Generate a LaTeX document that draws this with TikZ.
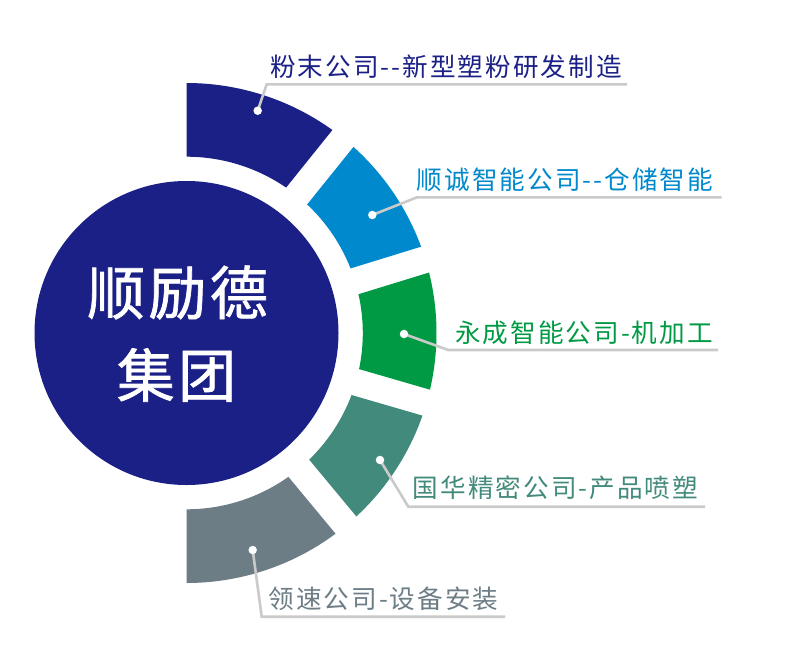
\documentclass[tikz,border=0pt]{standalone}
\usepackage{fontspec}
\newfontfamily\cjklab[LetterSpace=8,Ligatures=TeXOff]{Noto Sans CJK SC}
\newfontfamily\cjkbig[LetterSpace=6,FakeBold=1.2]{Noto Sans CJK SC}
\definecolor{cnavy}{HTML}{1B2086}
\definecolor{cblue}{HTML}{0089CC}
\definecolor{cgreen}{HTML}{009A44}
\definecolor{cteal}{HTML}{428A7B}
\definecolor{cgrey}{HTML}{6C7D86}
\definecolor{cline}{HTML}{CACACA}
\tikzset{
  leader/.style={draw=cline,line width=2.6pt,line join=miter},
  dotmark/.style={circle,fill=white,inner sep=0pt,minimum size=8.5pt},
  lab/.style={inner sep=0pt,anchor=west,font=\cjklab\fontsize{25.6}{25.6}\selectfont},
  centre/.style={inner sep=0pt,text=white,font=\cjkbig\fontsize{58}{58}\selectfont}
}
\begin{document}
\begin{tikzpicture}[x=1pt,y=1pt]
\useasboundingbox[fill=white] (0,0) rectangle (785,-657);
\coordinate (C) at (186.5,-333);
% central circle
\fill[cnavy] (C) circle (152);
\node[centre] (t1) at (177.5,-292.5) {顺励德};
\node[centre] (t2) at (176.5,-375) {集团};
% ring segments
\fill[cnavy] ([shift={(90:250)}]C) arc[start angle=90,end angle=54.3,radius=250]
  -- ([shift={(55.59:176.3)}]C) arc[start angle=55.59,end angle=90,radius=176.3] -- cycle;
\fill[cblue] ([shift={(48.1:250)}]C) arc[start angle=48.1,end angle=20.2,radius=250]
  -- ([shift={(21.49:176.3)}]C) arc[start angle=21.49,end angle=46.81,radius=176.3] -- cycle;
\fill[cgreen] ([shift={(14.0:250)}]C) arc[start angle=14.0,end angle=-13.1,radius=250]
  -- ([shift={(-11.81:176.3)}]C) arc[start angle=-11.81,end angle=12.71,radius=176.3] -- cycle;
\fill[cteal] ([shift={(-19.3:250)}]C) arc[start angle=-19.3,end angle=-47.2,radius=250]
  -- ([shift={(-45.91:176.3)}]C) arc[start angle=-45.91,end angle=-20.59,radius=176.3] -- cycle;
\fill[cgrey] ([shift={(-53.4:250)}]C) arc[start angle=-53.4,end angle=-90,radius=250]
  -- ([shift={(-90:176.3)}]C) arc[start angle=-90,end angle=-54.69,radius=176.3] -- cycle;
% leader points
\coordinate (p1) at (257.7,-110.7); \coordinate (k1) at (266.7,-84.3); \coordinate (e1) at (627,-84.3);
\coordinate (p2) at (372.3,-215);   \coordinate (k2) at (417,-197.3);  \coordinate (e2) at (721.7,-197.3);
\coordinate (p3) at (404,-334);     \coordinate (k3) at (448.3,-350);  \coordinate (e3) at (718,-350);
\coordinate (p4) at (380,-460);     \coordinate (k4) at (408.3,-506.7);\coordinate (e4) at (705,-506.7);
\coordinate (p5) at (252.7,-550);   \coordinate (k5) at (261.7,-616.7);\coordinate (e5) at (505,-616.7);
\draw[leader] (p1) -- (k1) -- (e1);
\draw[leader] (p2) -- (k2) -- (e2);
\draw[leader] (p3) -- (k3) -- (e3);
\draw[leader] (p4) -- (k4) -- (e4);
\draw[leader] (p5) -- (k5) -- (e5);
\node[dotmark] (d1) at (p1) {};
\node[dotmark] (d2) at (p2) {};
\node[dotmark] (d3) at (p3) {};
\node[dotmark] (d4) at (p4) {};
\node[dotmark] (d5) at (p5) {};
% labels
\node[lab,text=cnavy]  (l1) at (270,-66.5)   {粉末公司--新型塑粉研发制造};
\node[lab,text=cblue]  (l2) at (416.7,-180)  {顺诚智能公司--仓储智能};
\node[lab,text=cgreen] (l3) at (455,-333.3)  {永成智能公司-机加工};
\node[lab,text=cteal]  (l4) at (412.7,-488)  {国华精密公司-产品喷塑};
\node[lab,text=cgrey]  (l5) at (268.3,-598.3){领速公司-设备安装};
\end{tikzpicture}
\end{document}
